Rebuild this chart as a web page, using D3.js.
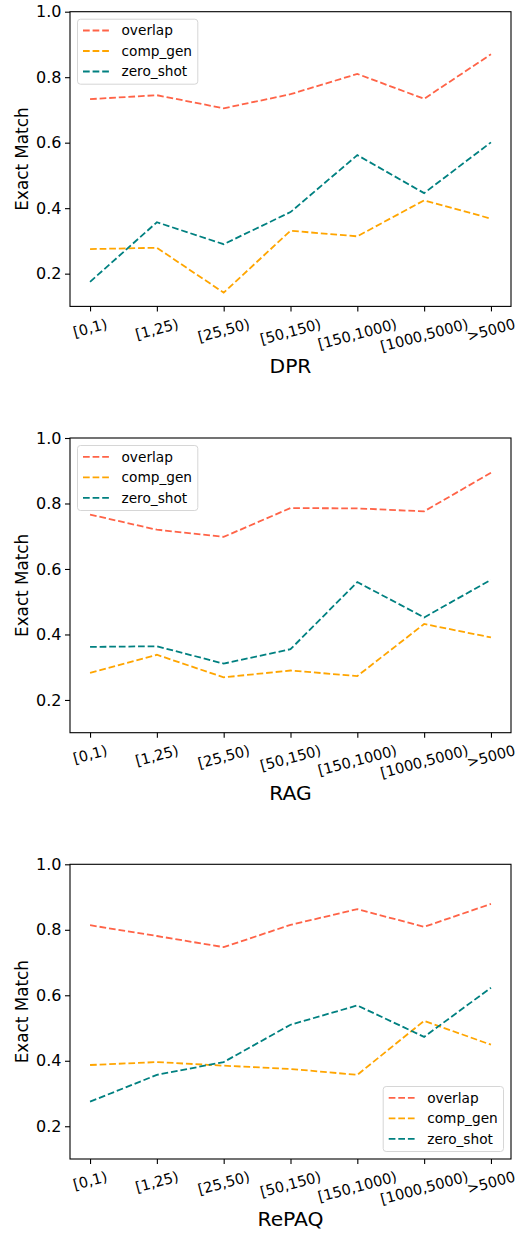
<!DOCTYPE html>
<html>
<head>
<meta charset="utf-8">
<script src="https://cdn.jsdelivr.net/npm/d3@7"></script>
<style>
  body { margin: 0; background: #fff; }
  svg { display: block; font-family: "DejaVu Sans", sans-serif; }
</style>
</head>
<body>
<svg id="chart"></svg>
<script>
// x categories (document frequency buckets)
const categories = ['[0,1)', '[1,25)', '[25,50)', '[50,150)', '[150,1000)', '[1000,5000)', '>5000'];
const seriesNames = ['overlap', 'comp_gen', 'zero_shot'];
const seriesColors = ['tomato', 'orange', 'teal'];
const yTicks = [0.2, 0.4, 0.6, 0.8, 1.0];

// DPR
const dprOverlap = [0.733, 0.745, 0.705, 0.748, 0.810, 0.734, 0.870];
const dprCompGen = [0.275, 0.279, 0.142, 0.331, 0.314, 0.424, 0.368];
const dprZeroShot = [0.175, 0.357, 0.290, 0.388, 0.562, 0.446, 0.601];

// RAG
const ragOverlap = [0.766, 0.720, 0.698, 0.786, 0.785, 0.776, 0.894];
const ragCompGen = [0.283, 0.338, 0.269, 0.290, 0.273, 0.432, 0.391];
const ragZeroShot = [0.362, 0.364, 0.311, 0.355, 0.560, 0.452, 0.567];

// RePAQ
const repaqOverlap = [0.814, 0.781, 0.747, 0.815, 0.863, 0.809, 0.879];
const repaqCompGen = [0.387, 0.396, 0.385, 0.375, 0.357, 0.522, 0.449];
const repaqZeroShot = [0.275, 0.357, 0.396, 0.510, 0.569, 0.473, 0.623];

const panels = [
  { title: 'DPR', top: 11.7, legend: 'upper left', series: [dprOverlap, dprCompGen, dprZeroShot] },
  { title: 'RAG', top: 438, legend: 'upper left', series: [ragOverlap, ragCompGen, ragZeroShot] },
  { title: 'RePAQ', top: 864.3, legend: 'lower right', series: [repaqOverlap, repaqCompGen, repaqZeroShot] }
];

const width = 518, height = 1233;
const plotLeft = 70, plotRight = 511, plotHeight = 294.7;
const tickLen = 5, tickPad = 4.5;
const dash = '6.7,2.9';
const lineW = 1.8;

const svg = d3.select('#chart')
  .attr('width', width)
  .attr('height', height);

const x = d3.scaleLinear()
  .domain([-0.3, categories.length - 1 + 0.3])
  .range([plotLeft, plotRight]);

function drawPanel(p) {
  const y = d3.scaleLinear()
    .domain([0.1, 1.0])
    .range([p.top + plotHeight, p.top]);

  const g = svg.append('g');
  const bottom = p.top + plotHeight;

  // lines
  const line = d3.line()
    .x((d, i) => x(i))
    .y(d => y(d));

  p.series.forEach((vals, k) => {
    g.append('path')
      .datum(vals)
      .attr('d', line)
      .attr('fill', 'none')
      .attr('stroke', seriesColors[k])
      .attr('stroke-width', lineW)
      .attr('stroke-dasharray', dash);
  });

  // frame
  g.append('rect')
    .attr('x', plotLeft)
    .attr('y', p.top)
    .attr('width', plotRight - plotLeft)
    .attr('height', plotHeight)
    .attr('fill', 'none')
    .attr('stroke', '#000')
    .attr('stroke-width', 1.1);

  // y axis
  const yAxis = d3.axisLeft(y)
    .tickValues(yTicks)
    .tickSize(tickLen)
    .tickPadding(3.5)
    .tickFormat(d3.format('.1f'));
  const yAxisG = g.append('g')
    .attr('transform', `translate(${plotLeft},0)`)
    .call(yAxis);
  yAxisG.select('.domain').remove();
  yAxisG.selectAll('line').attr('stroke-width', 1.1);
  yAxisG.selectAll('text')
    .attr('font-size', 16)
    .attr('fill', '#000')
    .attr('font-family', 'DejaVu Sans');

  // x axis ticks (labels placed by hand for matplotlib-like rotation)
  const xAxis = d3.axisBottom(x)
    .tickValues(d3.range(categories.length))
    .tickSize(tickLen)
    .tickFormat('');
  const xAxisG = g.append('g')
    .attr('transform', `translate(0,${bottom})`)
    .call(xAxis);
  xAxisG.select('.domain').remove();
  xAxisG.selectAll('line').attr('stroke-width', 1.1);

  const fs = 14.6;
  const ang = 15 * Math.PI / 180;
  categories.forEach((c, i) => {
    const t = g.append('text')
      .attr('font-size', fs)
      .attr('font-family', 'DejaVu Sans')
      .attr('text-anchor', 'middle')
      .attr('dominant-baseline', 'central')
      .text(c);
    const w = t.node().getComputedTextLength();
    const h = fs * 1.17;
    const bh = w * Math.sin(ang) + h * Math.cos(ang);
    const cy = bottom + tickLen + tickPad + bh / 2 - 1;
    t.attr('transform', `translate(${x(i)},${cy}) rotate(-15)`);
  });

  // axis titles
  g.append('text')
    .attr('x', (plotLeft + plotRight) / 2)
    .attr('y', bottom + 67)
    .attr('text-anchor', 'middle')
    .attr('font-size', 20.3)
    .text(p.title);

  g.append('text')
    .attr('transform', `translate(21.7,${p.top + plotHeight / 2}) rotate(-90)`)
    .attr('text-anchor', 'middle')
    .attr('dominant-baseline', 'central')
    .attr('font-size', 16.8)
    .text('Exact Match');

  // legend
  const lw = 120.3, lh = 65, inset = 7.5;
  const lx = p.legend === 'upper left' ? plotLeft + inset : plotRight - inset - lw;
  const ly = p.legend === 'upper left' ? p.top + inset : bottom - inset - lh;
  const leg = g.append('g').attr('transform', `translate(${lx},${ly})`);
  leg.append('rect')
    .attr('width', lw)
    .attr('height', lh)
    .attr('rx', 3)
    .attr('fill', '#fff')
    .attr('fill-opacity', 0.8)
    .attr('stroke', '#d6d6d6')
    .attr('stroke-width', 1);
  seriesNames.forEach((name, k) => {
    const ry = 11.3 + k * 20.5;
    leg.append('line')
      .attr('x1', 5.5).attr('x2', 31.5)
      .attr('y1', ry).attr('y2', ry)
      .attr('stroke', seriesColors[k])
      .attr('stroke-width', lineW)
      .attr('stroke-dasharray', dash);
    leg.append('text')
      .attr('x', 44)
      .attr('y', ry)
      .attr('dominant-baseline', 'central')
      .attr('font-size', 13.7)
      .text(name);
  });
}

panels.forEach(drawPanel);
</script>
</body>
</html>
